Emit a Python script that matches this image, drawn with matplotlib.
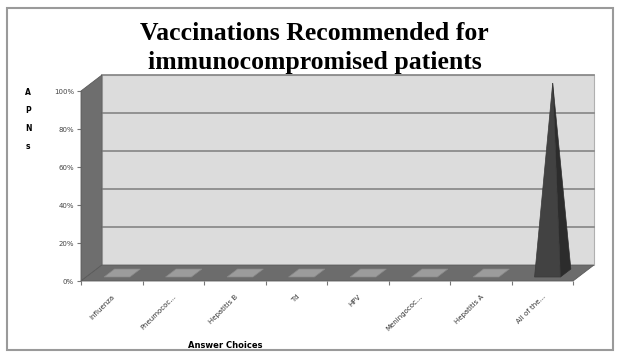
import matplotlib.pyplot as plt
from matplotlib.patches import Polygon, Rectangle

answers = ["Influenza", "Pneumococ...", "Hepatitis B", "Td", "HPV",
           "Meningococ...", "Hepatitis A", "All of the..."]
percent = [0, 0, 0, 0, 0, 0, 0, 100]
y_ticks = [0, 20, 40, 60, 80, 100]

# oblique depth of the 3D box, in data units (categories, percent)
DX, DY = 0.34, 8.4

fig = plt.figure(figsize=(6.19, 3.52), dpi=100)
ax = fig.add_axes([81 / 619, 71 / 352, 492 / 619, 190 / 352])
ax.set_xlim(0, len(answers))
ax.set_ylim(0, 100)
ax.set_facecolor("none")
for s in ax.spines.values():
    s.set_visible(False)

n = len(answers)

# back wall with gridlines
ax.add_patch(Polygon([(DX, DY), (n + DX, DY), (n + DX, 100 + DY), (DX, 100 + DY)],
                     closed=True, fc="#dcdcdc", ec="#b0b0b0", lw=0.8, clip_on=False, zorder=1))
for t in y_ticks[1:]:
    ax.plot([DX, n + DX], [t + DY, t + DY], color="#8c8c8c", lw=1.3,
            clip_on=False, zorder=2)

# left side wall
ax.add_patch(Polygon([(0, 0), (0, 100), (DX, 100 + DY), (DX, DY)],
                     closed=True, fc="#6e6e6e", ec="#5a5a5a", lw=0.6, clip_on=False, zorder=3))
# floor
ax.add_patch(Polygon([(0, 0), (n, 0), (n + DX, DY), (DX, DY)],
                     closed=True, fc="#6c6c6c", ec="#5a5a5a", lw=0.6, clip_on=False, zorder=3))

# pyramids (a zero value leaves only the flat base on the floor)
hw, f0, f1 = 0.21, 0.25, 0.75
for i, v in enumerate(percent):
    c = i + 0.5
    fl = (c - hw + f0 * DX, f0 * DY)
    fr = (c + hw + f0 * DX, f0 * DY)
    br = (c + hw + f1 * DX, f1 * DY)
    bl = (c - hw + f1 * DX, f1 * DY)
    if v == 0:
        ax.add_patch(Polygon([fl, fr, br, bl], closed=True, fc="#9c9c9c",
                             ec="#888888", lw=0.5, clip_on=False, zorder=4))
    else:
        apex = (c + 0.5 * DX, v + 0.5 * DY)
        ax.add_patch(Polygon([fr, br, apex], closed=True, fc="#2c2c2c",
                             ec="#2c2c2c", lw=0.5, clip_on=False, zorder=4))
        ax.add_patch(Polygon([fl, fr, apex], closed=True, fc="#424242",
                             ec="#3a3a3a", lw=0.5, clip_on=False, zorder=5))

# axes ticks and labels
ax.set_yticks(y_ticks)
ax.set_yticklabels([f"{t}%" for t in y_ticks])
ax.tick_params(axis="y", length=3, color="#777777", labelsize=5, labelcolor="#444444", pad=2)
ax.set_xticks(range(n + 1))
ax.set_xticklabels([])
ax.tick_params(axis="x", which="major", length=3, color="#777777")
ax.set_xticks([i + 0.5 for i in range(n)], minor=True)
ax.set_xticklabels(answers, minor=True, rotation=45, ha="right", va="top",
                   rotation_mode="anchor", fontsize=5, color="#333333")
ax.tick_params(axis="x", which="minor", length=0, pad=9)

fig.text(28 / 619, 1 - 88 / 352, "A\nP\nN\ns", ha="center", va="top",
         fontsize=5.5, fontweight="bold", linespacing=2.3)
fig.text(225 / 619, 1 - 345 / 352, "Answer Choices", ha="center", va="center",
         fontsize=6, fontweight="bold")

title_font = dict(family="Liberation Serif", fontsize=18.5, fontweight="bold",
                  ha="center", va="center")
fig.text(314 / 619, 1 - 33 / 352, "Vaccinations Recommended for", **title_font)
fig.text(315 / 619, 1 - 62 / 352, "immunocompromised patients", **title_font)

# outer frame
fig.add_artist(Rectangle((7 / 619, 2 / 352), 606 / 619, 342 / 352,
                         transform=fig.transFigure, fill=False, ec="#9a9a9a", lw=1.5))

fig.savefig("out.png", dpi=100)
